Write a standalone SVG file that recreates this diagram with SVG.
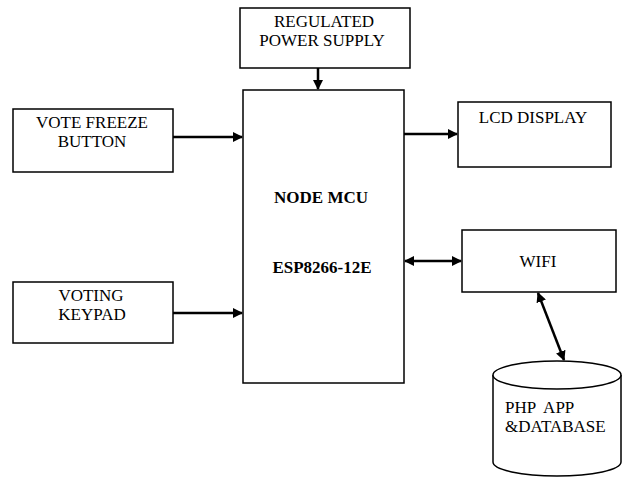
<svg xmlns="http://www.w3.org/2000/svg" width="623" height="477" viewBox="0 0 623 477">
<style>
.box{fill:#fff;stroke:#000;stroke-width:1.5}
.t{font-family:"Liberation Serif","Times New Roman",serif;font-size:17px;fill:#000;text-anchor:middle}
.s{text-anchor:start;white-space:pre}
.b{font-weight:bold}
.c{stroke:#000;stroke-width:2.5;fill:none}
</style>
<defs>
<marker id="ah" viewBox="0 0 10 10" refX="9" refY="5" markerWidth="4" markerHeight="4" orient="auto-start-reverse" markerUnits="strokeWidth">
<path d="M0,0 L10,5 L0,10 z" fill="#000"/>
</marker>
</defs>
<rect width="623" height="477" fill="#fff"/>
<g id="power">
<rect class="box" x="240" y="8" width="170" height="60"/>
<text class="t" x="324" y="27">REGULATED</text>
<text class="t" x="322" y="46">POWER SUPPLY</text>
</g>
<g id="mcu">
<rect class="box" x="243" y="90" width="161" height="293"/>
<text class="t b" x="321" y="203">NODE MCU</text>
<text class="t b" x="322" y="273">ESP8266-12E</text>
</g>
<g id="vote">
<rect class="box" x="13" y="109" width="160" height="63"/>
<text class="t" x="92" y="128">VOTE FREEZE</text>
<text class="t" x="92" y="147">BUTTON</text>
</g>
<g id="keypad">
<rect class="box" x="13" y="282" width="160" height="61"/>
<text class="t" x="91" y="301">VOTING</text>
<text class="t" x="92" y="320">KEYPAD</text>
</g>
<g id="lcd">
<rect class="box" x="458" y="102" width="153" height="65"/>
<text class="t" x="533" y="123">LCD DISPLAY</text>
</g>
<g id="wifi">
<rect class="box" x="462" y="230" width="154" height="62"/>
<text class="t" x="538" y="267">WIFI</text>
</g>
<g id="db">
<path d="M493,375 L493,462 A64,14 0 0 0 621,462 L621,375" fill="#fff" stroke="#000" stroke-width="1.5"/>
<ellipse cx="557" cy="375" rx="64" ry="14" fill="#fff" stroke="#000" stroke-width="1.5"/>
<text class="t s" x="505" y="413">PHP  APP</text>
<text class="t s" x="505" y="432">&amp;DATABASE</text>
</g>
<g id="connectors">
<line class="c" x1="318" y1="68" x2="318" y2="89" marker-end="url(#ah)"/>
<line class="c" x1="173" y1="137" x2="242" y2="137" marker-end="url(#ah)"/>
<line class="c" x1="173" y1="313" x2="242" y2="313" marker-end="url(#ah)"/>
<line class="c" x1="404" y1="134" x2="457" y2="134" marker-end="url(#ah)"/>
<line class="c" x1="405" y1="261" x2="461" y2="261" marker-start="url(#ah)" marker-end="url(#ah)"/>
<line class="c" x1="538" y1="293" x2="564" y2="360" marker-start="url(#ah)" marker-end="url(#ah)"/>
</g>
</svg>
